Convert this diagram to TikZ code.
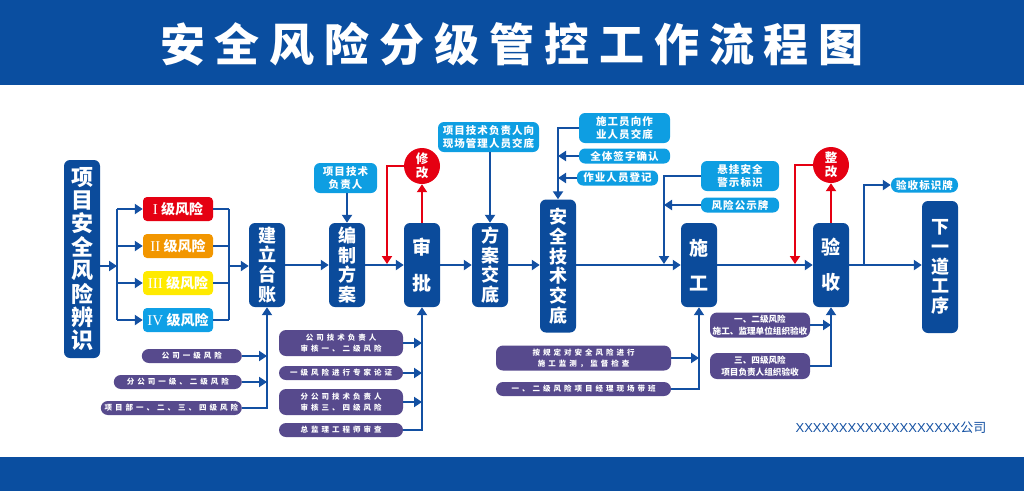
\documentclass[tikz,border=0pt]{standalone}
\usepackage{fontspec}
\setmainfont{Noto Sans CJK SC}
\newfontfamily\romfont{Liberation Serif}
\newfontfamily\firmfont{Liberation Sans}
\usepackage{xcolor}
\usetikzlibrary{arrows.meta,positioning,calc}

\definecolor{bandblue}{HTML}{0A4EA0}
\definecolor{stageblue}{HTML}{0B4B9B}
\definecolor{lineblue}{HTML}{1350A2}
\definecolor{tipblue}{HTML}{0E9EE2}
\definecolor{basispurple}{HTML}{574A8D}
\definecolor{redored}{HTML}{E50012}
\definecolor{lvorange}{HTML}{F29600}
\definecolor{lvyellow}{HTML}{FFEA00}
\definecolor{lvcyan}{HTML}{0FA0E6}

\begin{document}
\begin{tikzpicture}[
  x=1pt, y=-1pt,
  stage/.style={fill=stageblue, rounded corners=6pt, text=white, align=center, inner sep=0pt,
    minimum width=36, font=\bfseries\fontsize{18}{19.7}\selectfont},
  level/.style={rounded corners=4pt, text=white, minimum width=70, minimum height=24, inner sep=0pt,
    font=\bfseries\fontsize{14}{14}\selectfont},
  tip/.style={fill=tipblue, rounded corners=6pt, text=white, align=center, inner sep=0pt,
    minimum height=15, font=\bfseries\fontsize{10.5}{13}\selectfont\addfontfeature{LetterSpace=10}},
  basis/.style={fill=basispurple, rounded corners=7pt, text=white, align=center, inner sep=0pt,
    minimum height=14, font=\bfseries\fontsize{7.5}{11}\selectfont\addfontfeature{LetterSpace=40}},
  redo/.style={circle, fill=redored, text=white, align=center, minimum size=36, inner sep=0pt,
    font=\bfseries\fontsize{12.5}{14}\selectfont},
  line/.style={draw=lineblue, line width=2.4pt},
  arrow/.style={line, -{Triangle[length=8pt,width=10pt]}},
  redarrow/.style={draw=redored, line width=2.4pt, -{Triangle[length=8pt,width=10pt]}}
]
  \useasboundingbox (0,0) rectangle (1024,491);
  % bands
  \fill[bandblue] (0,0) rectangle (1024,85);
  \fill[bandblue] (0,457) rectangle (1024,491);
  \node[text=white, font=\bfseries\fontsize{45}{45}\selectfont\addfontfeature{LetterSpace=22}] (title) at (512,44) {安全风险分级管控工作流程图};

  % main stages
  \node[stage, minimum height=198, font=\bfseries\fontsize{22}{23.4}\selectfont] (ident) at (82,259) {项\\目\\安\\全\\风\\险\\辨\\识};
  \node[stage, minimum height=84] (ledger) at (267,265) {建\\立\\台\\账};
  \node[stage, minimum height=84] (plan) at (347,265) {编\\制\\方\\案};
  \node[stage, minimum height=84, font=\bfseries\fontsize{19}{36}\selectfont] (approve) at (422,265) {审\\批};
  \node[stage, minimum height=84] (brief) at (490,265) {方\\案\\交\\底};
  \node[stage, minimum height=133] (safebrief) at (558,266) {安\\全\\技\\术\\交\\底};
  \node[stage, minimum height=84, font=\bfseries\fontsize{19}{35}\selectfont] (build) at (699,265) {施\\工};
  \node[stage, minimum height=84, font=\bfseries\fontsize{19}{35}\selectfont] (accept) at (831,265) {验\\收};
  \node[stage, minimum height=132] (next) at (940,267) {下\\一\\道\\工\\序};

  % risk levels
  \foreach \n/\num/\col [count=\i] in {1/I/redored, 2/II/lvorange, 3/III/lvyellow, 4/IV/lvcyan}
    \node[level, fill=\col] (lv\n) at (178,172+37*\i) {{\mdseries\romfont\fontsize{15}{15}\selectfont\num}\ 级风险};

  % upper notes
  \node[tip, minimum width=63, minimum height=30] (techlead) at (345.5,178) {项目技术\\负责人};
  \node[tip, minimum width=101, minimum height=30] (handover) at (488.5,137) {项目技术负责人向\\现场管理人员交底};
  \node[tip, minimum width=91, minimum height=30] (crew) at (624.5,128) {施工员向作\\业人员交底};
  \node[tip, minimum width=91] (sign) at (624.5,156) {全体签字确认};
  \node[tip, minimum width=81] (register) at (617.5,178) {作业人员登记};
  \node[tip, minimum width=78, minimum height=30] (warn) at (740,176) {悬挂安全\\警示标识};
  \node[tip, minimum width=78] (board) at (740,205) {风险公示牌};
  \node[tip, minimum width=67, rounded corners=7pt] (tag) at (924.5,185) {验收标识牌};
  \node[redo] (fix) at (422,166) {修\\改};
  \node[redo] (rectify) at (831,165) {整\\改};

  % lower notes
  \node[basis, minimum width=100, anchor=east] (b1) at (242,356) {公司一级风险};
  \node[basis, minimum width=128, anchor=east] (b2) at (242,382) {分公司一级、二级风险};
  \node[basis, minimum width=141, anchor=east] (b3) at (242,408) {项目部一、二、三、四级风险};
  \node[basis, minimum width=124, minimum height=26] (r1) at (341,343) {公司技术负责人\\审核一、二级风险};
  \node[basis, minimum width=124] (r2) at (341,373) {一级风险进行专家论证};
  \node[basis, minimum width=124, minimum height=26] (r3) at (341,402) {分公司技术负责人\\审核三、四级风险};
  \node[basis, minimum width=124] (r4) at (341,430) {总监理工程师审查};
  \node[basis, minimum width=175, minimum height=25] (m1) at (583.5,358) {按规定对安全风险进行\\施工监测，监督检查};
  \node[basis, minimum width=175] (m2) at (583.5,389) {一、二级风险项目经理现场带班};
  \node[basis, minimum width=100, minimum height=25, font=\bfseries\fontsize{8.6}{11.5}\selectfont] (a1) at (760,325) {一、二级风险\\施工、监理单位组织验收};
  \node[basis, minimum width=100, minimum height=26, font=\bfseries\fontsize{8.6}{11.5}\selectfont] (a2) at (760,366) {三、四级风险\\项目负责人组织验收};

  \node[text=lineblue, font=\fontsize{13}{13}\selectfont] (company) at (891,428) {{\firmfont XXXXXXXXXXXXXXXXXXX}公司};

  % split into levels
  \coordinate (splitL) at (117,266);
  \coordinate (joinL) at (229,266);
  \draw[arrow] (ident.east |- splitL) -- (splitL);
  \draw[line] (splitL |- lv1) -- (splitL |- lv4);
  \draw[line] (joinL |- lv1) -- (joinL |- lv4);
  \foreach \n in {1,...,4} {
    \draw[arrow] (splitL |- lv\n) -- (lv\n.west);
    \draw[line] (lv\n.east) -- (joinL |- lv\n);
  }
  \draw[arrow] (joinL) -- (ledger.west |- joinL);

  % main chain
  \draw[arrow] (ledger) -- (plan);
  \draw[arrow] (plan) -- (approve);
  \draw[arrow] (approve) -- (brief);
  \draw[arrow] (brief) -- (brief -| safebrief.west);
  \draw[arrow] (safebrief.east |- build) -- (build);
  \draw[arrow] (build) -- (accept);
  \draw[arrow] (accept) -- (accept -| next.west);

  % upper links
  \coordinate (fixdrop) at (387,264);
  \coordinate (builddrop) at (664,264);
  \coordinate (rectdrop) at (795,264);
  \coordinate (tagsplit) at (864,265);
  \draw[arrow] (techlead.south -| plan.north) -- (plan.north);
  \draw[redarrow] (approve.north) -- (fix.south);
  \draw[redarrow] (fix.west) -| (fixdrop);
  \draw[arrow] (handover.south -| brief.north) -- (brief.north);
  \draw[arrow] (crew.west) -| (safebrief.north);
  \draw[arrow] (sign.west) -- (safebrief.north |- sign.west);
  \draw[arrow] (register.west) -- (safebrief.north |- register.west);
  \draw[arrow] (warn.west) -| (builddrop);
  \draw[arrow] (board.west) -- (builddrop |- board.west);
  \draw[redarrow] (accept.north) -- (rectify.south);
  \draw[redarrow] (rectify.west) -| (rectdrop);
  \draw[line] (tagsplit) |- ($(tag.west)+(-10,0)$);
  \draw[arrow] ($(tag.west)+(-11,0)$) -- (tag.west);

  % lower links
  \draw[arrow] (b3.east) -| (ledger.south);
  \foreach \n in {1,2} \draw[arrow] (b\n.east) -- (ledger.south |- b\n.east);
  \draw[arrow] (r4.east) -| (approve.south);
  \foreach \n in {1,2,3} \draw[arrow] (r\n.east) -- (approve.south |- r\n.east);
  \draw[arrow] (m2.east) -| (build.south);
  \draw[arrow] (m1.east) -- (build.south |- m1.east);
  \draw[arrow] (a2.east) -| (accept.south);
  \draw[arrow] (a1.east) -- (accept.south |- a1.east);
\end{tikzpicture}
\end{document}
